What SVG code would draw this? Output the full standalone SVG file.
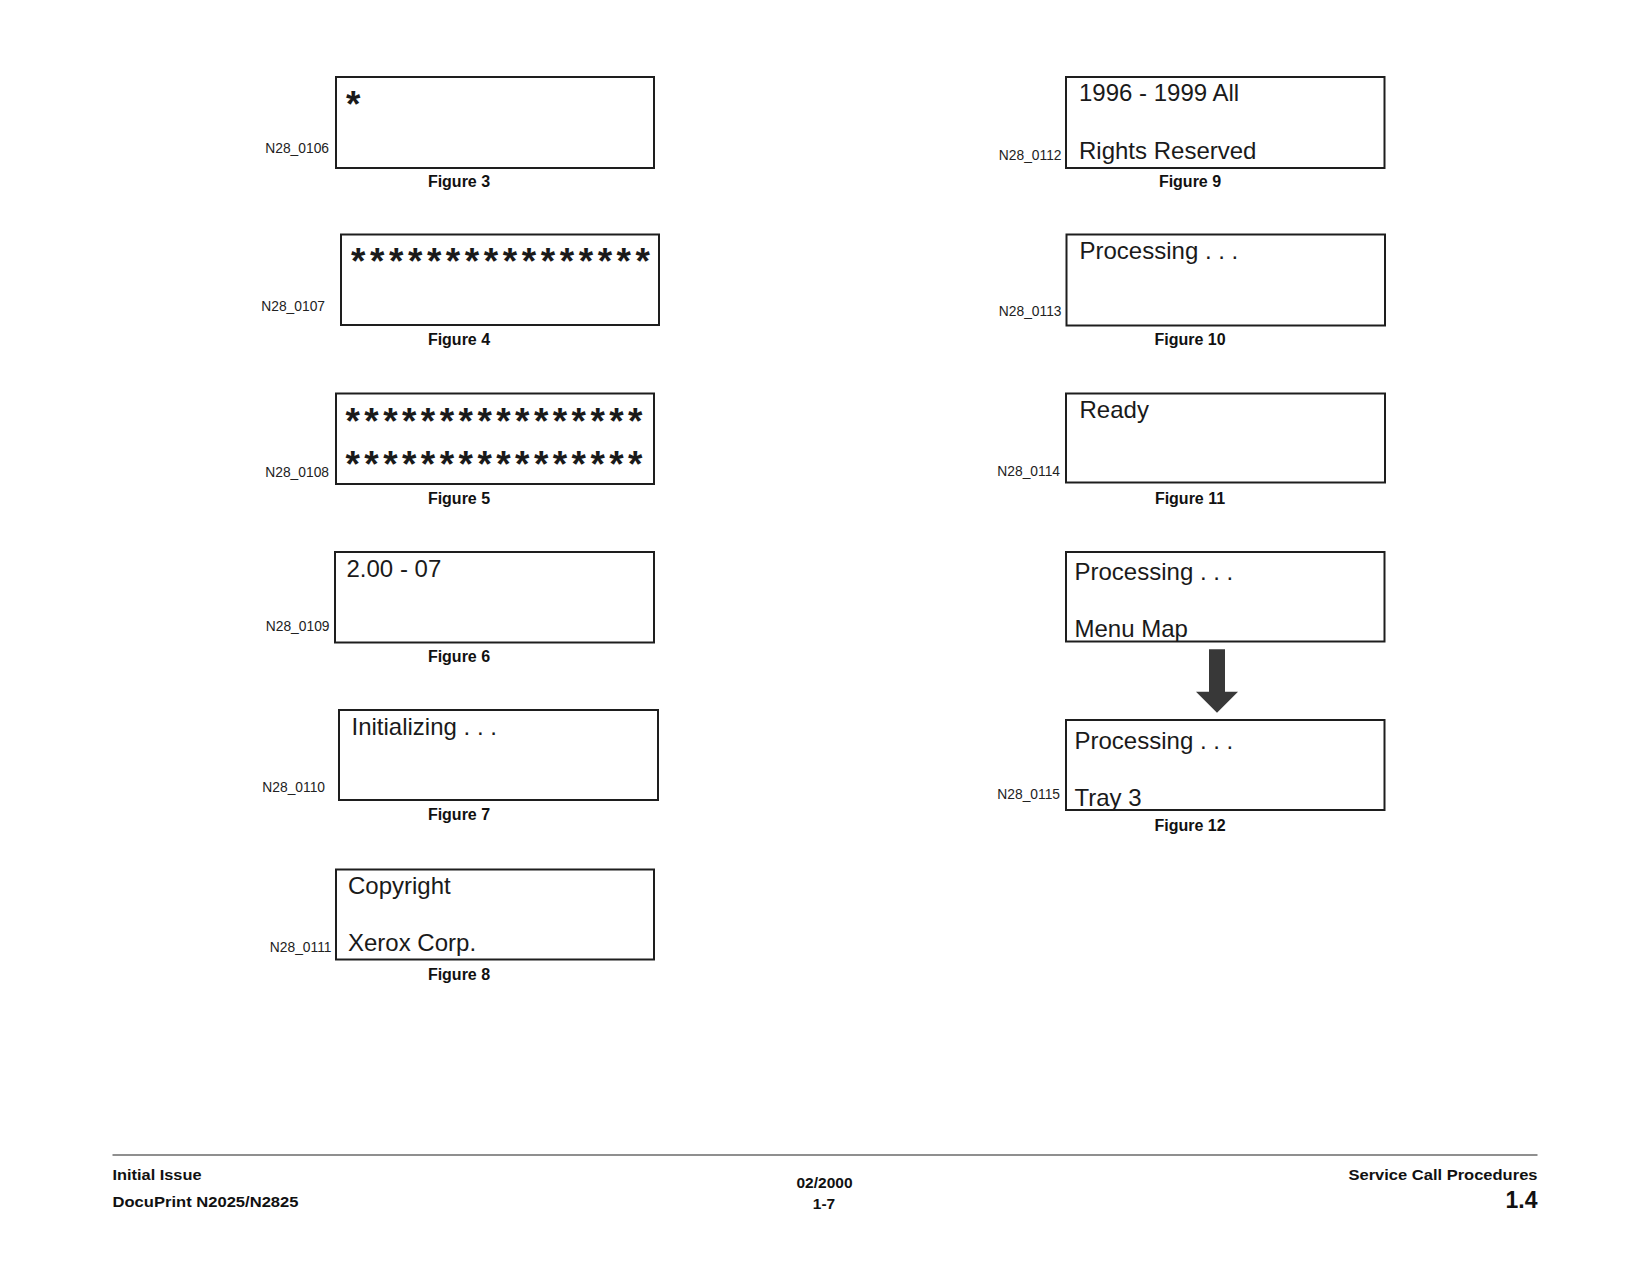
<svg xmlns="http://www.w3.org/2000/svg" width="1650" height="1275" viewBox="0 0 1650 1275">
<style>
.box{fill:#fff;stroke:#1e1e1e;stroke-width:2}
.lbl{font-family:"Liberation Sans",Arial,sans-serif;font-size:13.8px;fill:#222;text-anchor:end}
.fig{font-family:"Liberation Sans",Arial,sans-serif;font-size:16px;font-weight:bold;fill:#111;text-anchor:middle}
.lcd{font-family:"Liberation Sans",Arial,sans-serif;font-size:24px;fill:#1a1a1a}
.star{font-family:"Liberation Sans",Arial,sans-serif;font-size:37px;font-weight:bold;fill:#1a1a1a}
.ft{font-family:"Liberation Sans",Arial,sans-serif;font-weight:bold;fill:#111}
</style>
<rect width="1650" height="1275" fill="#fff"/>

<g id="fig3">
<rect class="box" x="336" y="77" width="318" height="91"/>
<text class="star" x="346" y="116.5">*</text>
<text class="lbl" x="329" y="153">N28_0106</text>
<text class="fig" x="459" y="187">Figure 3</text>
</g>

<g id="fig4">
<rect class="box" x="341" y="234.5" width="318" height="90.5"/>
<text class="star" x="351" y="274.2" textLength="299" lengthAdjust="spacing">****************</text>
<text class="lbl" x="325" y="311">N28_0107</text>
<text class="fig" x="459" y="345">Figure 4</text>
</g>

<g id="fig5">
<rect class="box" x="336" y="393.5" width="318" height="90.5"/>
<text class="star" x="345.5" y="434.2" textLength="297" lengthAdjust="spacing">****************</text>
<text class="star" x="345.5" y="477.2" textLength="297" lengthAdjust="spacing">****************</text>
<text class="lbl" x="329" y="477">N28_0108</text>
<text class="fig" x="459" y="504">Figure 5</text>
</g>

<g id="fig6">
<rect class="box" x="335" y="552" width="319" height="90.5"/>
<text class="lcd" x="346.5" y="577">2.00 - 07</text>
<text class="lbl" x="329.5" y="631">N28_0109</text>
<text class="fig" x="459" y="662">Figure 6</text>
</g>

<g id="fig7">
<rect class="box" x="339" y="710" width="319" height="90"/>
<text class="lcd" x="351.5" y="734.5">Initializing . . .</text>
<text class="lbl" x="325" y="792">N28_0110</text>
<text class="fig" x="459" y="820">Figure 7</text>
</g>

<g id="fig8">
<rect class="box" x="336" y="869.5" width="318" height="90"/>
<text class="lcd" x="348" y="893.5">Copyright</text>
<text class="lcd" x="348" y="950.5">Xerox Corp.</text>
<text class="lbl" x="331.5" y="951.5">N28_0111</text>
<text class="fig" x="459" y="979.5">Figure 8</text>
</g>

<g id="fig9">
<rect class="box" x="1066" y="77" width="318.5" height="91"/>
<text class="lcd" x="1079" y="100.5">1996 - 1999 All</text>
<text class="lcd" x="1079" y="158.5">Rights Reserved</text>
<text class="lbl" x="1061.5" y="159.5">N28_0112</text>
<text class="fig" x="1190" y="187">Figure 9</text>
</g>

<g id="fig10">
<rect class="box" x="1066.5" y="234.5" width="318.5" height="91"/>
<text class="lcd" x="1079.5" y="258.5">Processing . . .</text>
<text class="lbl" x="1061.5" y="316">N28_0113</text>
<text class="fig" x="1190" y="344.5">Figure 10</text>
</g>

<g id="fig11">
<rect class="box" x="1066" y="393.5" width="319" height="89"/>
<text class="lcd" x="1079.5" y="417.5">Ready</text>
<text class="lbl" x="1060" y="476">N28_0114</text>
<text class="fig" x="1190" y="503.5">Figure 11</text>
</g>

<g id="fig12a">
<rect class="box" x="1066" y="552" width="318.5" height="89.5"/>
<text class="lcd" x="1074.5" y="579.5">Processing . . .</text>
<text class="lcd" x="1074.5" y="636.5">Menu Map</text>
</g>

<g id="fig12b">
<rect class="box" x="1066" y="720" width="318.5" height="90"/>
<text class="lcd" x="1074.5" y="748.5">Processing . . .</text>
<text class="lcd" x="1074.5" y="806">Tray 3</text>
<text class="lbl" x="1060" y="799">N28_0115</text>
<text class="fig" x="1190" y="831">Figure 12</text>
</g>

<g id="connectors">
<polygon points="1209,649.3 1225,649.3 1225,691.7 1238,691.7 1217,712.7 1196,691.7 1209,691.7" fill="#383838"/>
</g>

<g id="footer">
<line x1="112.5" y1="1155" x2="1537.5" y2="1155" stroke="#6a6a6a" stroke-width="1.6"/>
<text class="ft" x="112.5" y="1179.5" font-size="15.5" textLength="89" lengthAdjust="spacingAndGlyphs">Initial Issue</text>
<text class="ft" x="112.5" y="1207" font-size="15.5" textLength="186" lengthAdjust="spacingAndGlyphs">DocuPrint N2025/N2825</text>
<text class="ft" x="824.5" y="1188" font-size="15.5" text-anchor="middle">02/2000</text>
<text class="ft" x="824" y="1209" font-size="15.5" text-anchor="middle">1-7</text>
<text class="ft" x="1537.5" y="1179.5" font-size="15.5" text-anchor="end" textLength="189" lengthAdjust="spacingAndGlyphs">Service Call Procedures</text>
<text class="ft" x="1537.5" y="1207.5" font-size="23" text-anchor="end">1.4</text>
</g>
</svg>
